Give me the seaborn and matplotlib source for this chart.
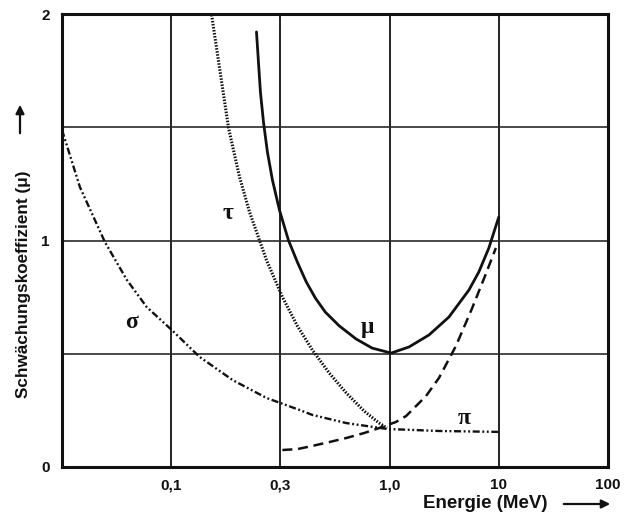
import matplotlib
matplotlib.use("Agg")
import matplotlib.pyplot as plt
from matplotlib.patches import FancyArrowPatch
import seaborn as sns

# Energy axis: equal steps, position 0 is the left frame edge
tick_pos = [1, 2, 3, 4, 5]
tick_labels = ["0,1", "0,3", "1,0", "10", "100"]
y_ticks = [0, 1, 2]

# Compton scattering (sigma), continues flat towards 10 MeV
sigma_x = [0.0, 0.164, 0.393, 0.594, 0.776, 1.005, 1.260, 1.562, 1.872, 2.174,
           2.292, 2.603, 2.977, 3.452, 4.0]
sigma_y = [1.488, 1.236, 0.993, 0.826, 0.706, 0.605, 0.486, 0.384, 0.305, 0.252,
           0.230, 0.194, 0.168, 0.159, 0.155]

# Photo effect (tau)
tau_x = [1.370, 1.525, 1.626, 1.717, 1.808, 1.872, 2.018, 2.155, 2.292, 2.447,
         2.603, 2.767, 2.904, 2.977]
tau_y = [1.996, 1.497, 1.280, 1.126, 1.002, 0.914, 0.751, 0.623, 0.517, 0.415,
         0.327, 0.247, 0.194, 0.172]

# Total attenuation (mu)
mu_x = [1.781, 1.799, 1.817, 1.845, 1.881, 1.927, 1.991, 2.073, 2.155, 2.237,
        2.320, 2.411, 2.539, 2.694, 2.840, 3.014, 3.178, 3.361, 3.543, 3.726,
        3.817, 3.909, 4.0]
mu_y = [1.921, 1.788, 1.656, 1.523, 1.391, 1.267, 1.135, 1.002, 0.905, 0.817,
        0.746, 0.684, 0.623, 0.565, 0.525, 0.503, 0.530, 0.583, 0.662, 0.781,
        0.861, 0.967, 1.104]

# Pair production (pi)
pi_x = [2.018, 2.155, 2.292, 2.447, 2.603, 2.767, 2.904, 3.059, 3.151, 3.333,
        3.452, 3.607, 3.753, 3.881, 3.973]
pi_y = [0.075, 0.079, 0.093, 0.110, 0.128, 0.150, 0.172, 0.199, 0.225, 0.313,
        0.393, 0.534, 0.698, 0.852, 0.967]

sns.set_style("white")
plt.rcParams["font.family"] = ["Liberation Sans", "DejaVu Sans"]
plt.rcParams["lines.solid_capstyle"] = "round"

INK = "#111111"
fig = plt.figure(figsize=(6.29, 5.21), dpi=100)
ax = fig.add_axes([62 / 629, 54 / 521, 546 / 629, 453 / 521])

# grid
for p in tick_pos[:-1]:
    ax.axvline(p, color=INK, lw=1.3, zorder=1)
for v in [0.5, 1.0, 1.5]:
    ax.axhline(v, color="#2a2a2a", lw=1.2, zorder=1)

sns.lineplot(x=sigma_x, y=sigma_y, ax=ax, color=INK, lw=1.7, sort=False,
             estimator=None, linestyle=(0, (3, 1.1, 0.8, 1.1, 0.8, 1.1)), zorder=3)
sns.lineplot(x=tau_x, y=tau_y, ax=ax, color=INK, lw=2.2, sort=False,
             estimator=None, linestyle=(0, (0.5, 0.5)), zorder=3)
sns.lineplot(x=mu_x, y=mu_y, ax=ax, color=INK, lw=2.0, sort=False,
             estimator=None, zorder=3)
sns.lineplot(x=pi_x, y=pi_y, ax=ax, color=INK, lw=1.8, sort=False,
             estimator=None, linestyle=(0, (4.0, 2.3)), zorder=3)

ax.set_xlim(0, 5)
ax.set_ylim(0, 2)
ax.set_xticks(tick_pos)
ax.set_xticklabels(tick_labels, fontsize=11, fontweight="bold")
ax.set_yticks(y_ticks)
ax.set_yticklabels([str(v) for v in y_ticks], fontsize=11, fontweight="bold")
ax.tick_params(axis="x", length=0, pad=8, colors=INK)
ax.tick_params(axis="y", length=0, pad=9, colors=INK)
ax.set_xlabel("")
ax.set_ylabel("")
for s in ax.spines.values():
    s.set_visible(True)
    s.set_color(INK)
    s.set_linewidth(2.2)

# curve symbols
greek = dict(fontsize=17, fontweight="bold", family=["Liberation Serif", "DejaVu Serif"],
             ha="center", va="center", color=INK)
ax.text(0.64, 0.636, "σ", **greek)
ax.text(1.516, 1.12, "τ", **greek)
ax.text(2.795, 0.614, "μ", **greek)
ax.text(3.68, 0.216, "π", **greek)

# axis titles with arrows
fig.text(485 / 629, 1 - 504 / 521, "Energie (MeV)", fontsize=13.5, fontweight="bold",
         ha="center", va="center", color=INK)
fig.add_artist(FancyArrowPatch(
    (561 / 629, 1 - 504 / 521), (613 / 629, 1 - 504 / 521), transform=fig.transFigure,
    arrowstyle="-|>,head_length=5,head_width=2.5", color=INK, lw=1.6))

fig.text(24 / 629, 1 - 284 / 521, "Schwächungskoeffizient (μ)", fontsize=12.3,
         fontweight="bold", rotation=90, ha="center", va="center", color=INK)
fig.add_artist(FancyArrowPatch(
    (20 / 629, 1 - 136 / 521), (20 / 629, 1 - 102 / 521), transform=fig.transFigure,
    arrowstyle="-|>,head_length=5,head_width=2.5", color=INK, lw=1.6))

fig.savefig("out.png", dpi=100, facecolor="white")
